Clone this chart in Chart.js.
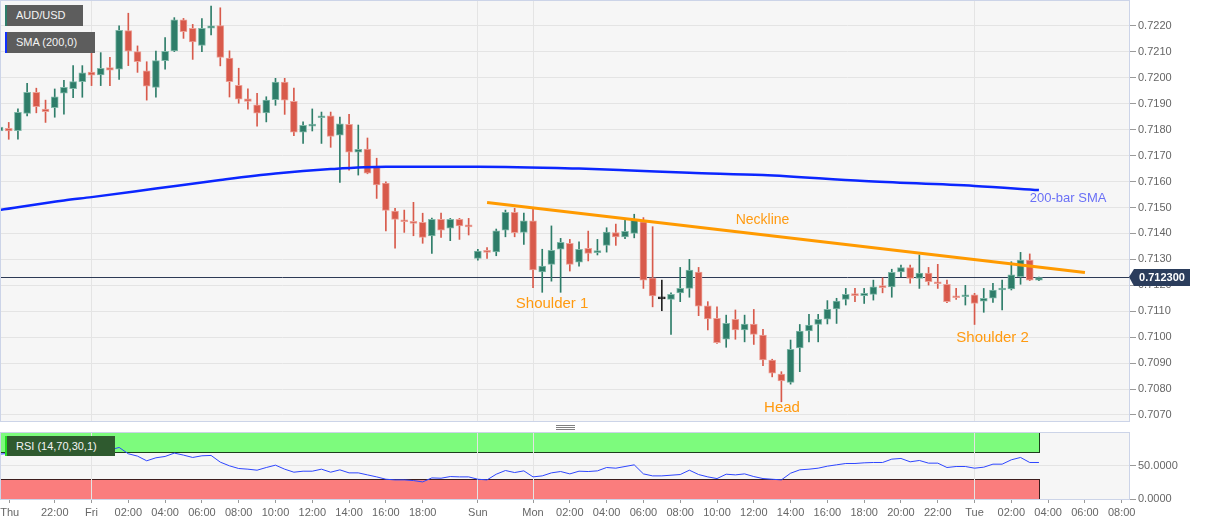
<!DOCTYPE html>
<html>
<head>
<meta charset="utf-8">
<script src="https://cdn.jsdelivr.net/npm/chart.js@4.4.0/dist/chart.umd.min.js"></script>
<style>
  body { margin: 0; background: #fff; font-family: Arial, "Liberation Sans", sans-serif; }
  #wrap { position: relative; width: 1207px; height: 526px; overflow: hidden; }
  canvas { position: absolute; left: 0; }
  #main { top: 0; }
  #rsi { top: 430px; }
  .tag { position: absolute; left: 5px; height: 21px; line-height: 21px; color: #f4f4f4;
         font-size: 11px; padding-left: 9px; box-sizing: border-box; border-left: 2px solid; white-space: nowrap; }
  .grip { position: absolute; left: 556px; width: 19px; height: 1px; background: #808080; }
</style>
</head>
<body>
<div id="wrap">
  <canvas id="main" width="1207" height="424"></canvas>
  <canvas id="rsi" width="1207" height="96"></canvas>
  <div class="tag" style="top:5px;width:78px;background:#5d5d5d;border-color:#2e7d6a;">AUD/USD</div>
  <div class="tag" style="top:32px;width:90px;background:#5d5d5d;border-color:#1030ff;">SMA (200,0)</div>
  <div class="tag" style="top:436px;width:110px;height:20px;line-height:20px;background:#2f5a2f;border-color:#22dd22;">RSI (14,70,30,1)</div>
  <div class="grip" style="top:425px"></div>
  <div class="grip" style="top:427px"></div>
  <div class="grip" style="top:429px"></div>
</div>
<script>
// 30-minute bars, index 0 = Fri 00:00 (weekend removed)
const firstBar = -10;

const opens = [
  0.71795, 0.71805, 0.71796, 0.71863, 0.71944, 0.71879, 0.71885, 0.71941, 0.71958, 0.71985,
  0.72022, 0.72011, 0.72039, 0.72033, 0.72182, 0.72101, 0.72027, 0.71963, 0.72066, 0.72104,
  0.72224, 0.72191, 0.72125, 0.72191, 0.72201, 0.72076, 0.71971, 0.71919, 0.71896, 0.71865,
  0.71916, 0.71984, 0.71909, 0.71790, 0.71814, 0.71846, 0.71853, 0.71779, 0.71821, 0.71713,
  0.71725, 0.71660, 0.71594, 0.71486, 0.71452, 0.71444, 0.71443, 0.71390, 0.71454, 0.71420,
  0.71454, 0.71429, 0.71304, 0.71332, 0.71329, 0.71413, 0.71481, 0.71404, 0.71449, 0.71252,
  0.71281, 0.71339, 0.71362, 0.71289, 0.71343, 0.71326, 0.71354, 0.71403, 0.71387, 0.71400,
  0.71445, 0.71229, 0.71148, 0.71146, 0.71171, 0.71188, 0.71251, 0.71121, 0.71073, 0.70992,
  0.71069, 0.71028, 0.71051, 0.71008, 0.70912, 0.70858, 0.70826, 0.70959, 0.71024, 0.71049,
  0.71069, 0.71109, 0.71146, 0.71163, 0.71160, 0.71165, 0.71194, 0.71194, 0.71252, 0.71268,
  0.71227, 0.71247, 0.71211, 0.71204, 0.71157, 0.71156, 0.71163, 0.71139, 0.71150, 0.71182,
  0.71186, 0.71233, 0.71297, 0.71220
];
const highs = [
  0.71818, 0.71828, 0.71880, 0.71979, 0.71960, 0.71914, 0.71957, 0.71990, 0.72047, 0.72047,
  0.72148, 0.72097, 0.72079, 0.72200, 0.72249, 0.72123, 0.72062, 0.72103, 0.72155, 0.72232,
  0.72229, 0.72206, 0.72228, 0.72277, 0.72270, 0.72104, 0.72037, 0.71958, 0.71940, 0.71927,
  0.71998, 0.71998, 0.71960, 0.71830, 0.71880, 0.71868, 0.71868, 0.71849, 0.71859, 0.71818,
  0.71768, 0.71690, 0.71599, 0.71497, 0.71490, 0.71520, 0.71478, 0.71459, 0.71478, 0.71458,
  0.71458, 0.71458, 0.71339, 0.71345, 0.71417, 0.71490, 0.71497, 0.71478, 0.71493, 0.71339,
  0.71429, 0.71381, 0.71377, 0.71368, 0.71409, 0.71377, 0.71422, 0.71436, 0.71454, 0.71474,
  0.71461, 0.71426, 0.71220, 0.71171, 0.71269, 0.71300, 0.71269, 0.71137, 0.71117, 0.71085,
  0.71105, 0.71085, 0.71107, 0.71030, 0.70915, 0.70867, 0.70989, 0.71049, 0.71088, 0.71088,
  0.71141, 0.71150, 0.71188, 0.71188, 0.71188, 0.71220, 0.71229, 0.71262, 0.71278, 0.71278,
  0.71317, 0.71269, 0.71281, 0.71220, 0.71188, 0.71200, 0.71169, 0.71188, 0.71208, 0.71220,
  0.71291, 0.71327, 0.71321, 0.71232
];
const lows = [
  0.71725, 0.71763, 0.71763, 0.71853, 0.71865, 0.71828, 0.71848, 0.71860, 0.71923, 0.71925,
  0.71970, 0.71970, 0.71970, 0.71994, 0.72047, 0.72021, 0.71914, 0.71925, 0.72033, 0.72101,
  0.72152, 0.72071, 0.72101, 0.72165, 0.72046, 0.71926, 0.71902, 0.71879, 0.71814, 0.71830,
  0.71894, 0.71859, 0.71777, 0.71747, 0.71795, 0.71747, 0.71732, 0.71597, 0.71644, 0.71625,
  0.71630, 0.71535, 0.71410, 0.71343, 0.71404, 0.71391, 0.71362, 0.71323, 0.71385, 0.71372,
  0.71377, 0.71394, 0.71297, 0.71304, 0.71314, 0.71387, 0.71387, 0.71358, 0.71191, 0.71173,
  0.71216, 0.71173, 0.71255, 0.71274, 0.71294, 0.71317, 0.71328, 0.71354, 0.71380, 0.71383,
  0.71188, 0.71117, 0.71102, 0.71011, 0.71137, 0.71154, 0.71083, 0.71028, 0.70976, 0.70961,
  0.70992, 0.70982, 0.70972, 0.70890, 0.70847, 0.70751, 0.70819, 0.70867, 0.70982, 0.70982,
  0.71051, 0.71053, 0.71124, 0.71137, 0.71130, 0.71143, 0.71171, 0.71154, 0.71233, 0.71208,
  0.71188, 0.71201, 0.71188, 0.71133, 0.71146, 0.71124, 0.71049, 0.71096, 0.71134, 0.71105,
  0.71182, 0.71204, 0.71218, 0.71218
];
const closes = [
  0.71810, 0.71795, 0.71867, 0.71944, 0.71889, 0.71869, 0.71927, 0.71963, 0.71985, 0.72019,
  0.72010, 0.72037, 0.72029, 0.72183, 0.72103, 0.72062, 0.71968, 0.72066, 0.72102, 0.72224,
  0.72178, 0.72138, 0.72191, 0.72200, 0.72079, 0.71985, 0.71918, 0.71909, 0.71864, 0.71914,
  0.71984, 0.71914, 0.71790, 0.71817, 0.71819, 0.71852, 0.71774, 0.71823, 0.71713, 0.71724,
  0.71632, 0.71587, 0.71489, 0.71454, 0.71445, 0.71439, 0.71385, 0.71454, 0.71413, 0.71454,
  0.71429, 0.71425, 0.71332, 0.71327, 0.71410, 0.71481, 0.71403, 0.71449, 0.71259, 0.71274,
  0.71335, 0.71366, 0.71281, 0.71339, 0.71323, 0.71330, 0.71405, 0.71387, 0.71408, 0.71454,
  0.71220, 0.71159, 0.71148, 0.71165, 0.71188, 0.71259, 0.71120, 0.71070, 0.70979, 0.71053,
  0.71028, 0.71051, 0.71011, 0.70912, 0.70861, 0.70831, 0.70953, 0.71024, 0.71047, 0.71069,
  0.71107, 0.71139, 0.71165, 0.71160, 0.71169, 0.71194, 0.71191, 0.71250, 0.71268, 0.71227,
  0.71247, 0.71214, 0.71206, 0.71137, 0.71152, 0.71160, 0.71130, 0.71150, 0.71182, 0.71186,
  0.71240, 0.71297, 0.71220, 0.71230
];
const rsiValues = [
  67, 68, 70.5, 69.5, 68, 67, 68.5, 70, 70, 70.5,
  71, 71.5, 73, 77, 67.5, 64, 57, 61.5, 63.5, 68.5,
  65.5, 62, 64.5, 65, 55, 49.5, 45.5, 44.5, 43, 47,
  50.5, 44.5, 40, 41.5, 41.5, 44.5, 40, 43.5, 39, 39,
  36, 33, 29.5, 28.5, 28.5, 27.5, 25.5, 31.5, 31, 33.5,
  33, 33, 29.5, 28.5, 37, 42.5, 39.5, 42, 33, 34.5,
  39, 41, 37.5, 41.5, 41, 42, 47, 46, 48.5, 51,
  37.5, 34.5, 34.5, 35.5, 36.5, 43, 36.5, 33, 30.5, 37,
  36, 37.5, 33.5, 30.5, 29.5, 28.5, 38.5, 43.5, 44.5, 46,
  49, 51, 53, 53, 54, 54.5, 54.5, 59.5, 60.5, 55.5,
  57.5, 53.5, 53.5, 47, 48.5, 48.5, 46, 47.5, 52, 52,
  58.5, 62, 54.5, 54.5
];

// 200-bar SMA, read at a few bars
const smaX = [-10, -3, 0, 7, 14, 20, 26, 32, 42, 53, 58, 65, 73, 84, 96, 103];
const smaY = [0.71490, 0.71527, 0.71540, 0.71573, 0.71606, 0.71631, 0.71648, 0.71657, 0.71657,
              0.71650, 0.71644, 0.71634, 0.71625, 0.71602, 0.71583, 0.71567];

const neckX = [43, 108];
const neckY = [0.71519, 0.71249];
const lastPrice = 0.7123;

const priceTicks = [0.7070, 0.7080, 0.7090, 0.7100, 0.7110, 0.7120, 0.7130, 0.7140,
                    0.7150, 0.7160, 0.7170, 0.7180, 0.7190, 0.7200, 0.7210, 0.7220];
const rsiTicks = [0, 50];
const tickPos = [-8.9, -4, 0, 4, 8, 12, 16, 20, 24, 28, 32, 36, 42, 48, 52, 56, 60, 64,
                 68, 72, 76, 80, 84, 88, 92, 96, 100, 104, 108, 112];
const tickLabels = ['Thu', '22:00', 'Fri', '02:00', '04:00', '06:00', '08:00', '10:00', '12:00',
                    '14:00', '16:00', '18:00', 'Sun', 'Mon', '02:00', '04:00', '06:00', '08:00',
                    '10:00', '12:00', '14:00', '16:00', '18:00', '20:00', '22:00', 'Tue', '02:00',
                    '04:00', '06:00', '08:00'];
const dayLines = [0, 42, 48, 96];

const notes = [
  { text: 'Neckline', x: 72.95, y: 0.71452, color: '#ff9a10', size: 14 },
  { text: 'Shoulder 1', x: 50.07, y: 0.71128, color: '#ff9a10', size: 15 },
  { text: 'Head', x: 75.07, y: 0.70728, color: '#ff9a10', size: 15 },
  { text: 'Shoulder 2', x: 97.96, y: 0.70999, color: '#ff9a10', size: 15 },
  { text: '200-bar SMA', x: 106.17, y: 0.71535, color: '#6a70f6', size: 13 }
];

const xMin = -9.95, xMax = 112.9;
const yMin = 0.70673, yMax = 0.72300;

const FONT = 'Arial, "Liberation Sans", sans-serif';
Chart.defaults.font.family = FONT;
Chart.defaults.animation = false;

const GREEN = '#2e7d69', RED = '#d85a4b', DOJI = '#222222';
const barX = opens.map((o, i) => firstBar + i);
const candleColor = opens.map((o, i) => closes[i] > o ? GREEN : (closes[i] < o ? RED : DOJI));
const candleEdge = candleColor.map(c => c === GREEN ? '#7fb8a8' : (c === RED ? '#eca197' : DOJI));

function fixY(s) { s.width = 77; s.paddingTop = 0; s.paddingBottom = 0; }

const mainDeco = {
  id: 'mainDeco',
  beforeDraw(chart) {
    const { ctx, chartArea: a } = chart;
    ctx.save();
    ctx.fillStyle = '#f6f6f6';
    ctx.fillRect(a.left, a.top, a.width, a.height);
    ctx.restore();
  },
  beforeDatasetsDraw(chart) {
    const { ctx, chartArea: a, scales } = chart;
    const y = Math.floor(scales.y.getPixelForValue(lastPrice)) + 0.5;
    ctx.save();
    ctx.strokeStyle = '#2d3a55';
    ctx.lineWidth = 1;
    ctx.beginPath();
    ctx.moveTo(a.left, y);
    ctx.lineTo(a.right, y);
    ctx.stroke();
    ctx.restore();
  },
  afterDatasetsDraw(chart) {
    const { ctx, scales } = chart;
    ctx.save();
    ctx.textAlign = 'center';
    ctx.textBaseline = 'middle';
    notes.forEach(n => {
      ctx.font = n.size + 'px ' + FONT;
      ctx.fillStyle = n.color;
      ctx.fillText(n.text, scales.x.getPixelForValue(n.x), scales.y.getPixelForValue(n.y));
    });
    ctx.restore();
  },
  afterDraw(chart) {
    const { ctx, chartArea: a, scales } = chart;
    ctx.save();
    ctx.strokeStyle = '#ccd4e8';
    ctx.lineWidth = 1;
    ctx.strokeRect(a.left + 0.5, a.top + 0.5, a.width - 1, a.height - 1);
    const y = Math.floor(scales.y.getPixelForValue(lastPrice));
    const r = a.right;
    ctx.fillStyle = '#2b3d5c';
    ctx.beginPath();
    ctx.moveTo(r - 1, y);
    ctx.lineTo(r + 4, y - 8);
    ctx.lineTo(r + 60, y - 8);
    ctx.lineTo(r + 60, y + 9);
    ctx.lineTo(r + 4, y + 9);
    ctx.closePath();
    ctx.fill();
    ctx.fillStyle = '#ffffff';
    ctx.font = 'bold 11px ' + FONT;
    ctx.textAlign = 'center';
    ctx.textBaseline = 'middle';
    ctx.fillText(lastPrice.toFixed(6), r + 32, y + 1);
    ctx.restore();
  }
};

new Chart(document.getElementById('main'), {
  type: 'bar',
  data: {
    datasets: [
      {
        label: 'wick',
        data: barX.map((x, i) => ({ x: x, y: [lows[i], highs[i]] })),
        backgroundColor: candleColor,
        barThickness: 1,
        grouped: false,
        order: 3
      },
      {
        label: 'body',
        data: barX.map((x, i) => ({ x: x, y: [opens[i], closes[i]] })),
        backgroundColor: candleColor,
        borderColor: candleEdge,
        borderWidth: 1,
        borderSkipped: false,
        barThickness: 7,
        minBarLength: 2,
        grouped: false,
        order: 2
      },
      {
        type: 'line',
        label: 'SMA',
        data: smaX.map((x, i) => ({ x: x, y: smaY[i] })),
        borderColor: '#0b26ff',
        borderWidth: 2.5,
        pointRadius: 0,
        cubicInterpolationMode: 'monotone',
        order: 1
      },
      {
        type: 'line',
        label: 'Neckline',
        data: neckX.map((x, i) => ({ x: x, y: neckY[i] })),
        borderColor: '#ff9a00',
        borderWidth: 3,
        pointRadius: 0,
        order: 0
      }
    ]
  },
  options: {
    responsive: false,
    layout: { padding: { top: 0, bottom: 2, left: 0, right: 0 } },
    plugins: { legend: { display: false }, tooltip: { enabled: false } },
    scales: {
      x: {
        type: 'linear', min: xMin, max: xMax, offset: false,
        afterBuildTicks: s => { s.ticks = dayLines.map(v => ({ value: v })); },
        ticks: { display: false },
        grid: { color: '#e4e4e4', drawTicks: false, offset: false },
        border: { display: false },
        afterFit: s => { s.height = 0; s.paddingLeft = 0; s.paddingRight = 0; }
      },
      y: {
        position: 'right', min: yMin, max: yMax,
        afterBuildTicks: s => { s.ticks = priceTicks.map(v => ({ value: v })); },
        ticks: { callback: v => v.toFixed(4), color: '#666', font: { size: 11 }, padding: 2 },
        grid: { color: '#e4e4e4', tickColor: '#9a9a9a', tickLength: 6 },
        border: { display: false },
        afterFit: fixY
      }
    }
  },
  plugins: [mainDeco]
});

const rsiDeco = {
  id: 'rsiDeco',
  beforeDraw(chart) {
    const { ctx, chartArea: a, scales } = chart;
    ctx.save();
    ctx.fillStyle = '#f6f6f6';
    ctx.fillRect(a.left, a.top, a.width, a.height);
    const xr = Math.round(scales.x.getPixelForValue(barX[barX.length - 1])) + 0.5;
    const y100 = Math.round(scales.y.getPixelForValue(100)) + 0.5;
    const y70 = Math.round(scales.y.getPixelForValue(70)) + 0.5;
    const y30 = Math.round(scales.y.getPixelForValue(30)) + 0.5;
    const y0 = Math.round(scales.y.getPixelForValue(0)) + 0.5;
    ctx.fillStyle = '#7dfb7d';
    ctx.fillRect(a.left, y100, xr - a.left, y70 - y100);
    ctx.fillStyle = '#fa7d7d';
    ctx.fillRect(a.left, y30, xr - a.left, y0 - y30);
    ctx.lineWidth = 1;
    ctx.strokeStyle = '#1d3d1d';
    ctx.strokeRect(a.left + 0.5, y100, xr - a.left - 0.5, y70 - y100);
    ctx.strokeStyle = '#3d1d1d';
    ctx.strokeRect(a.left + 0.5, y30, xr - a.left - 0.5, y0 - y30);
    ctx.restore();
  },
  afterDraw(chart) {
    const { ctx, chartArea: a } = chart;
    ctx.save();
    ctx.strokeStyle = '#ccd4e8';
    ctx.lineWidth = 1;
    ctx.strokeRect(a.left + 0.5, a.top + 0.5, a.width - 1, a.height);
    ctx.restore();
  }
};

new Chart(document.getElementById('rsi'), {
  type: 'line',
  data: {
    datasets: [{
      label: 'RSI',
      data: barX.map((x, i) => ({ x: x, y: rsiValues[i] })),
      borderColor: '#2e46ff',
      borderWidth: 1,
      pointRadius: 0,
      tension: 0
    }]
  },
  options: {
    responsive: false,
    layout: { padding: { top: 2, bottom: 0, left: 0, right: 0 } },
    plugins: { legend: { display: false }, tooltip: { enabled: false } },
    scales: {
      x: {
        type: 'linear', min: xMin, max: xMax,
        afterBuildTicks: s => { s.ticks = tickPos.map(v => ({ value: v })); },
        ticks: { autoSkip: false, maxRotation: 0, callback: (v, i) => tickLabels[i],
                 color: '#666', font: { size: 11 }, padding: 3 },
        grid: {
          color: c => (c.tick && dayLines.includes(c.tick.value)) ? '#e4e4e4' : 'rgba(0,0,0,0)',
          tickColor: '#9a9a9a', tickLength: 4
        },
        border: { display: false },
        afterFit: s => { s.height = 27; s.paddingLeft = 0; s.paddingRight = 0; }
      },
      y: {
        position: 'right', min: 0, max: 100,
        afterBuildTicks: s => { s.ticks = rsiTicks.map(v => ({ value: v })); },
        ticks: { callback: v => v.toFixed(4), color: '#666', font: { size: 11 }, padding: 2 },
        grid: { color: '#e4e4e4', tickColor: '#9a9a9a', tickLength: 6 },
        border: { display: false },
        afterFit: fixY
      }
    }
  },
  plugins: [rsiDeco]
});
</script>
</body>
</html>
